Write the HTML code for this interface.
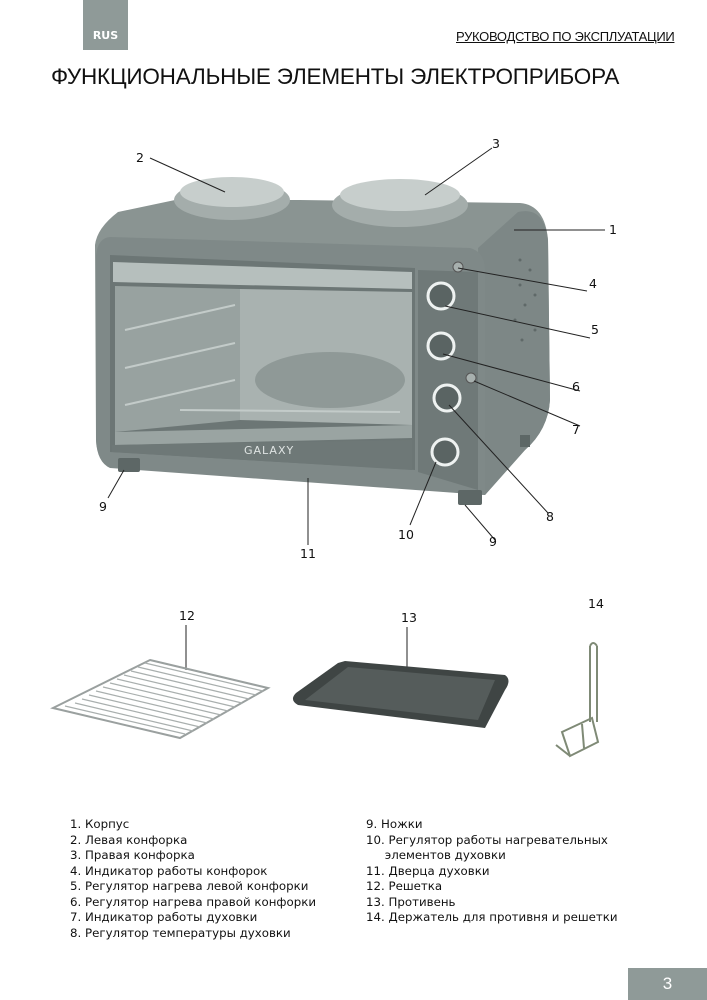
<!DOCTYPE html>
<html><head><meta charset="utf-8"><style>
body{margin:0;width:707px;height:1000px;background:#fff;position:relative;overflow:hidden;font-family:"DejaVu Sans","Liberation Sans",sans-serif}
.t{position:absolute}
</style></head><body>
<div class="t" style="left:83px;top:0;width:45px;height:50px;background:#8f9a98;color:#fff;font:bold 11px 'DejaVu Sans',sans-serif;text-align:center;line-height:14px;padding-top:29px;box-sizing:border-box">RUS</div>
<div class="t" style="left:456px;top:29px;font:13px 'Liberation Sans',sans-serif;text-decoration:underline;color:#111;letter-spacing:-0.3px">РУКОВОДСТВО ПО ЭКСПЛУАТАЦИИ</div>
<div class="t" style="left:51px;top:64px;font:22.5px 'Liberation Sans',sans-serif;color:#111;letter-spacing:-0.2px">ФУНКЦИОНАЛЬНЫЕ ЭЛЕМЕНТЫ ЭЛЕКТРОПРИБОРА</div>

<svg class="t" style="left:0;top:0" width="707" height="1000" viewBox="0 0 707 1000">
<g font-family="DejaVu Sans,sans-serif" font-size="12.5" fill="#111">
<path d="M118 212 L175 200 L300 200 L520 203 Q545 205 548 240 L550 400 Q548 430 525 450 L485 495 L110 465 Q97 460 96 440 L95 245 Q97 228 118 212Z" fill="#8a9492"/>
<path d="M478 248 L518 212 Q544 206 548 240 L550 400 Q548 430 525 450 L485 495Z" fill="#7d8786"/>
<path d="M110 237 L470 248 Q485 252 485 270 L485 495 L110 468 Q97 462 96 440 L96 255 Q98 238 110 237Z" fill="#7f8988"/>
<path d="M110 255 L415 268 L415 470 L110 452Z" fill="#6c7675"/>
<path d="M113 262 L412 272 L412 289 L113 282Z" fill="#b6bfbd"/>
<path d="M115 286 L240 289 L240 420 L115 432Z" fill="#98a2a0"/>
<path d="M240 289 L412 292 L412 425 L240 420Z" fill="#a9b2b0"/>
<ellipse cx="330" cy="380" rx="75" ry="28" fill="#8f9997"/>
<path d="M115 432 L412 425 L412 438 L115 445Z" fill="#9aa4a2"/>
<path d="M125 330 L235 305 M125 368 L235 343 M125 405 L235 380 M180 410 L400 412" stroke="#c3cbc9" stroke-width="2"/>
<path d="M112 445 L412 440 L412 470 L112 452Z" fill="#6e7877"/>
<text x="244" y="454" font-size="11" fill="#dfe4e3" letter-spacing="1">GALAXY</text>
<path d="M418 270 L478 272 L478 490 L418 472Z" fill="#6f7978"/>
<g fill="#5a6463" stroke="#eef2f1" stroke-width="3">
<circle cx="441" cy="296" r="13"/><circle cx="441" cy="346" r="13"/><circle cx="447" cy="398" r="13"/><circle cx="445" cy="452" r="13"/>
</g>
<circle cx="458" cy="267" r="5" fill="#a7b0ae" stroke="#555" stroke-width="1"/>
<circle cx="471" cy="378" r="5" fill="#a7b0ae" stroke="#555" stroke-width="1"/>
<ellipse cx="232" cy="200" rx="58" ry="20" fill="#a4adab"/>
<ellipse cx="232" cy="192" rx="52" ry="15" fill="#c7cecc"/>
<ellipse cx="400" cy="205" rx="68" ry="22" fill="#a4adab"/>
<ellipse cx="400" cy="195" rx="60" ry="16" fill="#c7cecc"/>
<g fill="#5f6968"><circle cx="520" cy="260" r="1.5"/><circle cx="530" cy="270" r="1.5"/><circle cx="520" cy="285" r="1.5"/><circle cx="535" cy="295" r="1.5"/><circle cx="525" cy="305" r="1.5"/><circle cx="515" cy="320" r="1.5"/><circle cx="535" cy="330" r="1.5"/><circle cx="522" cy="340" r="1.5"/></g>
<rect x="118" y="458" width="22" height="14" rx="2" fill="#5d6766"/>
<rect x="458" y="490" width="24" height="15" rx="2" fill="#5d6766"/>
<rect x="520" y="435" width="10" height="12" fill="#5d6766"/>
<g stroke="#222" stroke-width="1">
<line x1="150" y1="158" x2="225" y2="192"/>
<line x1="492" y1="148" x2="425" y2="195"/>
<line x1="514" y1="230" x2="605" y2="230"/>
<line x1="458" y1="268" x2="587" y2="291"/>
<line x1="445" y1="306" x2="590" y2="338"/>
<line x1="443" y1="354" x2="580" y2="391"/>
<line x1="474" y1="381" x2="580" y2="426"/>
<line x1="449" y1="405" x2="548" y2="513"/>
<line x1="436" y1="462" x2="410" y2="525"/>
<line x1="124" y1="470" x2="108" y2="498"/>
<line x1="465" y1="505" x2="495" y2="540"/>
<line x1="308" y1="478" x2="308" y2="545"/>
<line x1="186" y1="625" x2="186" y2="670"/>
<line x1="407" y1="627" x2="407" y2="670"/>
</g>
<text x="136" y="162">2</text><text x="492" y="148">3</text><text x="609" y="234">1</text>
<text x="589" y="288">4</text><text x="591" y="334">5</text><text x="572" y="391">6</text>
<text x="572" y="434">7</text><text x="546" y="521">8</text><text x="398" y="539">10</text>
<text x="99" y="511">9</text><text x="489" y="546">9</text><text x="300" y="558">11</text>
<text x="179" y="620">12</text><text x="401" y="622">13</text><text x="588" y="608">14</text>
<path d="M150 660 L268 688 L180 738 L53 708Z" fill="none" stroke="#9aa09f" stroke-width="2"/>
<g stroke="#a9afae" stroke-width="1.2">
<line x1="145" y1="663" x2="263" y2="691"/><line x1="138" y1="667" x2="256" y2="695"/><line x1="131" y1="671" x2="249" y2="699"/><line x1="124" y1="675" x2="242" y2="703"/><line x1="117" y1="679" x2="235" y2="707"/><line x1="110" y1="683" x2="228" y2="711"/><line x1="103" y1="687" x2="221" y2="715"/><line x1="96" y1="691" x2="214" y2="719"/><line x1="89" y1="695" x2="207" y2="723"/><line x1="82" y1="699" x2="200" y2="727"/><line x1="75" y1="703" x2="193" y2="731"/><line x1="65" y1="706" x2="185" y2="734"/>
</g>
<path d="M345 661 L505 675 Q512 680 505 690 L485 728 L298 705 Q289 700 296 693 L338 663Z" fill="#3f4544"/>
<path d="M348 667 L495 680 L478 720 L305 700Z" fill="#555c5b"/>
<g stroke="#7f8a76" stroke-width="2" fill="none">
<path d="M590 646 L590 722 M597 646 L597 722 M590 646 Q593 640 597 646"/>
<path d="M562 732 L592 718 L598 742 L570 756Z M582 724 L584 748 M556 745 L570 756"/>
</g>
</g>
</svg>

<div class="t" style="left:70px;top:817px;font:11.8px 'DejaVu Sans',sans-serif;line-height:15.5px;color:#111;white-space:pre">1. Корпус
2. Левая конфорка
3. Правая конфорка
4. Индикатор работы конфорок
5. Регулятор нагрева левой конфорки
6. Регулятор нагрева правой конфорки
7. Индикатор работы духовки
8. Регулятор температуры духовки</div>
<div class="t" style="left:366px;top:817px;font:11.8px 'DejaVu Sans',sans-serif;line-height:15.5px;color:#111;white-space:pre">9. Ножки
10. Регулятор работы нагревательных
     элементов духовки
11. Дверца духовки
12. Решетка
13. Противень
14. Держатель для противня и решетки</div>
<div class="t" style="left:628px;top:968px;width:79px;height:32px;background:#8f9a98;color:#fff;font:17px 'Liberation Sans',sans-serif;text-align:center;line-height:32px">3</div>
</body></html>
